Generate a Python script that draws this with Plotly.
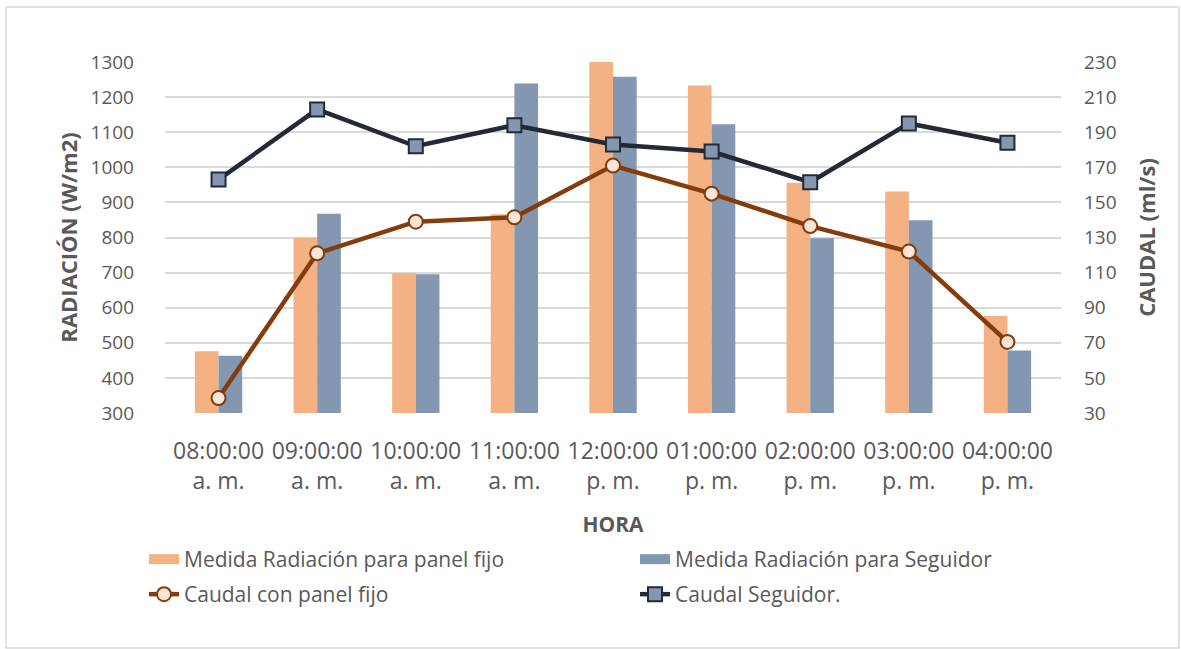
import plotly.graph_objects as go

horas = ["08:00:00<br>a. m.", "09:00:00<br>a. m.", "10:00:00<br>a. m.", "11:00:00<br>a. m.",
         "12:00:00<br>p. m.", "01:00:00<br>p. m.", "02:00:00<br>p. m.", "03:00:00<br>p. m.",
         "04:00:00<br>p. m."]
rad_fijo = [476, 799, 699, 866, 1300, 1233, 956, 931, 577]
rad_seguidor = [463, 868, 695, 1239, 1258, 1123, 798, 849, 478]
caudal_fijo = [38.5, 121, 139, 141.5, 171, 155, 136.5, 122, 70.5]
caudal_seguidor = [163, 203, 182, 194, 183, 179, 161.5, 195, 184]

FONT = "Open Sans"
GRAY = "#595959"
C_FIJO_BAR = "#F4B183"
C_SEG_BAR = "#8497B0"

fig = go.Figure()
fig.add_trace(go.Bar(x=horas, y=rad_fijo, name="Medida Radiación para panel fijo",
                     showlegend=False, legendgroup="bf",
                     marker=dict(color=C_FIJO_BAR, line=dict(width=0))))
fig.add_trace(go.Bar(x=horas, y=rad_seguidor, name="Medida Radiación para Seguidor",
                     showlegend=False, legendgroup="bs",
                     marker=dict(color=C_SEG_BAR, line=dict(width=0))))
# legend swatches (wide rectangles like the original)
fig.add_trace(go.Scatter(x=[None], y=[None], name="Medida Radiación para panel fijo",
                         legend="legend", legendgroup="bf", mode="lines",
                         line=dict(color=C_FIJO_BAR, width=16)))
fig.add_trace(go.Scatter(x=[None], y=[None], name="Medida Radiación para Seguidor",
                         legend="legend", legendgroup="bs", mode="lines",
                         line=dict(color=C_SEG_BAR, width=16)))
fig.add_trace(go.Scatter(x=horas, y=caudal_fijo, name="Caudal con panel fijo", yaxis="y2",
                         legend="legend2", mode="lines+markers",
                         line=dict(color="#843C0C", width=4.5),
                         marker=dict(symbol="circle", size=14, color="#FBE5D6",
                                     line=dict(color="#843C0C", width=2))))
fig.add_trace(go.Scatter(x=horas, y=caudal_seguidor, name="Caudal Seguidor.", yaxis="y2",
                         legend="legend2", mode="lines+markers",
                         line=dict(color="#222A35", width=4.5),
                         marker=dict(symbol="square", size=14, color="#8497B0",
                                     line=dict(color="#222A35", width=2))))

W, H = 1181, 649
ml, mr, mt, mb = 165, 120, 62, 236
pw, ph = W - ml - mr, H - mt - mb

def px2x(px):
    return (px - ml) / pw

def py2y(py):
    return (H - mb - py) / ph

leg_common = dict(orientation="h", xanchor="left", yanchor="top",
                  entrywidth=446, entrywidthmode="pixels",
                  font=dict(family=FONT, size=21, color=GRAY),
                  traceorder="normal", bgcolor="rgba(0,0,0,0)")

fig.update_layout(
    width=W, height=H,
    margin=dict(l=ml, r=mr, t=mt, b=mb, autoexpand=False),
    paper_bgcolor="white", plot_bgcolor="white",
    font=dict(family=FONT, color=GRAY, size=20),
    barmode="group", bargap=0.52, bargroupgap=0,
    showlegend=True,
    legend=dict(x=px2x(144), y=py2y(539), **leg_common),
    legend2=dict(x=px2x(144), y=py2y(574), **leg_common),
    xaxis=dict(
        showgrid=False, showline=False, zeroline=False, ticks="",
        tickfont=dict(family=FONT, size=23, color=GRAY),
        ticklabelstandoff=22,
        title=dict(text="<b>HORA</b>", font=dict(family=FONT, size=21, color=GRAY), standoff=22),
        automargin=False,
    ),
    yaxis=dict(
        range=[300, 1300], dtick=100, tick0=300,
        showgrid=True, gridcolor="#D9D9D9", gridwidth=1.5, zeroline=False, showline=False,
        ticks="", tickfont=dict(family=FONT, size=19, color=GRAY),
        ticklabelstandoff=30,
        title=dict(text="<b>RADIACIÓN (W/m2)</b>", font=dict(family=FONT, size=22, color=GRAY),
                   standoff=6),
        automargin=False,
    ),
    yaxis2=dict(
        range=[30, 230], dtick=20, tick0=30, overlaying="y", side="right",
        showgrid=False, zeroline=False, showline=False, ticks="",
        tickfont=dict(family=FONT, size=19, color=GRAY),
        ticklabelstandoff=22,
        title=dict(text="<b>CAUDAL (ml/s)</b>", font=dict(family=FONT, size=22, color=GRAY),
                   standoff=24),
        automargin=False,
    ),
    shapes=[dict(type="rect", xref="paper", yref="paper",
                 x0=px2x(6), x1=px2x(1179), y0=py2y(648), y1=py2y(7),
                 line=dict(color="#D9D9D9", width=1.5), fillcolor="rgba(0,0,0,0)", layer="below")],
)

fig.write_html("out.html", config={"displayModeBar": False},
               post_script="document.body.style.margin='0';document.body.style.padding='0';")
